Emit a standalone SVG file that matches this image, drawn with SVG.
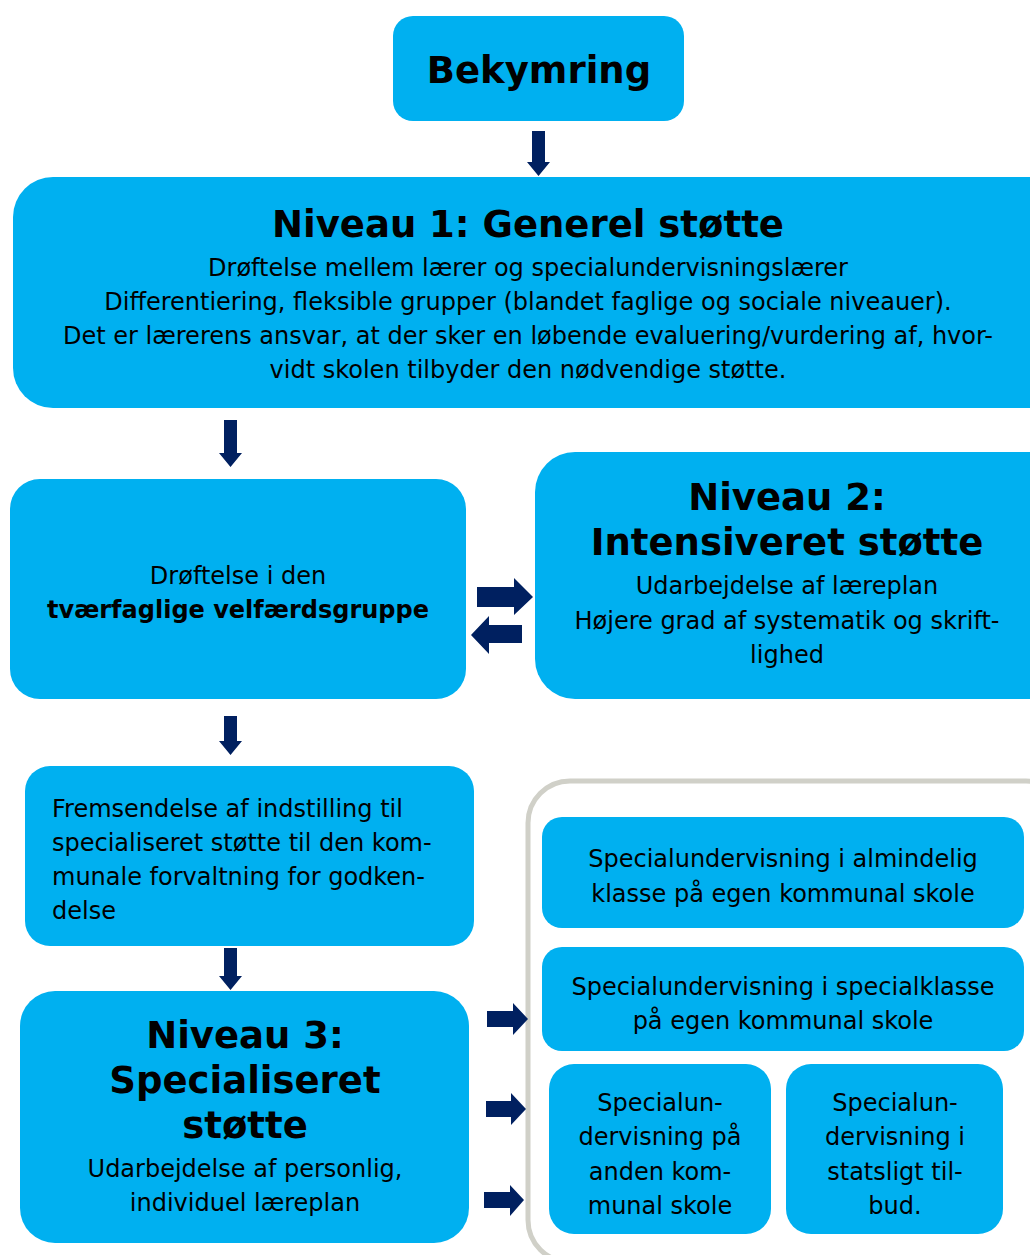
<svg xmlns="http://www.w3.org/2000/svg" width="1030" height="1255" viewBox="0 0 1030 1255">
<style>
.box{fill:#00B0F0}
.t{font-family:"DejaVu Sans",Verdana,sans-serif;fill:#000}
.b{font-size:37px;font-weight:bold}
.r{font-size:24px}
.c{text-anchor:middle}
.arr{fill:#002060}
</style>
<rect width="1030" height="1255" fill="#fff"/>
<g id="group-options">
<rect x="528" y="781" width="540" height="481" rx="42" fill="none" stroke="#D0D0C8" stroke-width="5"/>
</g>
<g id="bekymring">
<rect class="box" x="393" y="16" width="291" height="105" rx="20"/>
<text class="t b c" x="539" y="83">Bekymring</text>
</g>
<g id="niveau1">
<rect class="box" x="13" y="177" width="1060" height="231" rx="40"/>
<text class="t b c" x="528" y="237">Niveau 1: Generel støtte</text>
<text class="t r c" x="528" y="276">Drøftelse mellem lærer og specialundervisningslærer</text>
<text class="t r c" x="528" y="310">Differentiering, fleksible grupper (blandet faglige og sociale niveauer).</text>
<text class="t r c" x="528" y="344">Det er lærerens ansvar, at der sker en løbende evaluering/vurdering af, hvor-</text>
<text class="t r c" x="528" y="378">vidt skolen tilbyder den nødvendige støtte.</text>
</g>
<g id="velfaerdsgruppe">
<rect class="box" x="10" y="479" width="456" height="220" rx="30"/>
<text class="t r c" x="238" y="584">Drøftelse i den</text>
<text class="t r c" x="238" y="618" font-weight="bold">tværfaglige velfærdsgruppe</text>
</g>
<g id="niveau2">
<rect class="box" x="535" y="452" width="540" height="247" rx="40"/>
<text class="t b c" x="787" y="510">Niveau 2:</text>
<text class="t b c" x="787" y="555">Intensiveret støtte</text>
<text class="t r c" x="787" y="594">Udarbejdelse af læreplan</text>
<text class="t r c" x="787" y="629">Højere grad af systematik og skrift-</text>
<text class="t r c" x="787" y="663">lighed</text>
</g>
<g id="fremsendelse">
<rect class="box" x="25" y="766" width="449" height="180" rx="25"/>
<text class="t r" x="52" y="817">Fremsendelse af indstilling til</text>
<text class="t r" x="52" y="851">specialiseret støtte til den kom-</text>
<text class="t r" x="52" y="885">munale forvaltning for godken-</text>
<text class="t r" x="52" y="919">delse</text>
</g>
<g id="niveau3">
<rect class="box" x="20" y="991" width="449" height="252" rx="35"/>
<text class="t b c" x="245" y="1048">Niveau 3:</text>
<text class="t b c" x="245" y="1093">Specialiseret</text>
<text class="t b c" x="245" y="1138">støtte</text>
<text class="t r c" x="245" y="1177">Udarbejdelse af personlig,</text>
<text class="t r c" x="245" y="1211">individuel læreplan</text>
</g>
<g id="option-almindelig">
<rect class="box" x="542" y="817" width="482" height="111" rx="20"/>
<text class="t r c" x="783" y="867">Specialundervisning i almindelig</text>
<text class="t r c" x="783" y="902">klasse på egen kommunal skole</text>
</g>
<g id="option-specialklasse">
<rect class="box" x="542" y="947" width="482" height="104" rx="20"/>
<text class="t r c" x="783" y="995">Specialundervisning i specialklasse</text>
<text class="t r c" x="783" y="1029">på egen kommunal skole</text>
</g>
<g id="option-anden">
<rect class="box" x="549" y="1064" width="222" height="170" rx="25"/>
<text class="t r c" x="660" y="1111">Specialun-</text>
<text class="t r c" x="660" y="1145">dervisning på</text>
<text class="t r c" x="660" y="1180">anden kom-</text>
<text class="t r c" x="660" y="1214">munal skole</text>
</g>
<g id="option-statsligt">
<rect class="box" x="786" y="1064" width="217" height="170" rx="25"/>
<text class="t r c" x="895" y="1111">Specialun-</text>
<text class="t r c" x="895" y="1145">dervisning i</text>
<text class="t r c" x="895" y="1180">statsligt til-</text>
<text class="t r c" x="895" y="1214">bud.</text>
</g>
<g id="connectors" class="arr">
<polygon points="532,131 545,131 545,162 550,162 538.5,176 527,162 532,162"/>
<polygon points="224,420 237,420 237,453 242,453 230.5,467 219,453 224,453"/>
<polygon points="224,716 237,716 237,741 242,741 230.5,755 219,741 224,741"/>
<polygon points="224,948 237,948 237,976 242,976 230.5,990 219,976 224,976"/>
<polygon points="477,587 514,587 514,578 533,597 514,615 514,607 477,607"/>
<polygon points="522,625 489,625 489,616 471,635 489,654 489,643 522,643"/>
<polygon points="487,1011 513,1011 513,1003 528,1019 513,1035 513,1027 487,1027"/>
<polygon points="486,1101 511,1101 511,1093 526,1109 511,1125 511,1117 486,1117"/>
<polygon points="484,1192 510,1192 510,1185 524,1200 510,1216 510,1208 484,1208"/>
</g>
</svg>
